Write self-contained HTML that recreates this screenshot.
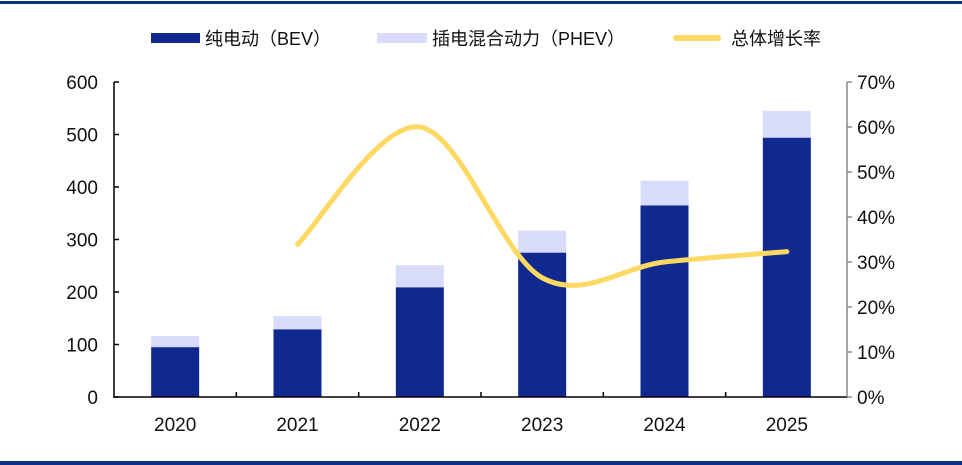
<!DOCTYPE html>
<html><head><meta charset="utf-8"><style>
body{margin:0;background:#fff}
svg{display:block;font-family:"Liberation Sans","Noto Sans CJK SC",sans-serif}
</style></head><body>
<svg id="chart" width="962" height="465" viewBox="0 0 962 465">
<rect x="0" y="1" width="962" height="3" fill="#0c3287"/>
<rect x="0" y="461" width="962" height="4" fill="#0c3287"/>
<g font-size="18" fill="#111">
<rect x="151" y="33" width="49" height="10" fill="#10298f"/>
<text x="205" y="45">纯电动（BEV）</text>
<rect x="377" y="33" width="50" height="10" fill="#d9dbfb"/>
<text x="432" y="45">插电混合动力（PHEV）</text>
<line x1="676" y1="38" x2="718" y2="38" stroke="#fdd963" stroke-width="6" stroke-linecap="round"/>
<text x="731" y="45">总体增长率</text>
</g>
<g id="plot"></g>
</svg>
<script>
const categories=["2020","2021","2022","2023","2024","2025"];
const bevValues=[95,129,209,275,365,494];
const phevValues=[21,25,42,42,47,51];
const growthValues=[null,33.9,60,26.5,30,32.3];
const leftTicks=[0,100,200,300,400,500,600];
const rightTicks=[0,10,20,30,40,50,60,70];

const NS="http://www.w3.org/2000/svg";
const g=document.getElementById('plot');
const X0=114,X1=848,Y0=397,Y1=82;
const band=(X1-X0)/categories.length;
const xc=i=>X0+band*(i+0.5);
const yL=v=>Y0-(v/600)*(Y0-Y1);
const yR=v=>Y0-(v/70)*(Y0-Y1);
function mk(tag,attrs){const e=document.createElementNS(NS,tag);for(const k in attrs)e.setAttribute(k,attrs[k]);g.appendChild(e);return e;}

categories.forEach((c,i)=>{
  const b=mk('rect',{x:xc(i)-24,y:yL(bevValues[i]),width:48,height:Y0-yL(bevValues[i]),fill:'#10298f'});
  
  
  const top=bevValues[i]+phevValues[i];
  const p=mk('rect',{x:xc(i)-24,y:yL(top),width:48,height:yL(bevValues[i])-yL(top),fill:'#d9dbfb'});
  
  
  const t=mk('text',{x:xc(i),y:431,'text-anchor':'middle','font-size':19,fill:'#111'});
  t.textContent=c;
  
  
});
for(let i=1;i<categories.length;i++){
  const tk=mk('line',{x1:X0+band*i,y1:Y0,x2:X0+band*i,y2:Y0-5,stroke:'#000','stroke-width':1.5});
  
  
}
const la=mk('line',{x1:X0,y1:Y1,x2:X0,y2:Y0,stroke:'#000','stroke-width':1.5});


const xa=mk('line',{x1:X0-1,y1:Y0,x2:X1,y2:Y0,stroke:'#000','stroke-width':1.5});


const ra=mk('line',{x1:X1-1,y1:Y1,x2:X1-1,y2:Y0,stroke:'#888','stroke-width':1.5});


leftTicks.forEach(v=>{
  const l=mk('line',{x1:X0,y1:yL(v),x2:X0+5,y2:yL(v),stroke:'#000','stroke-width':1.5});
  
  
  const t=mk('text',{x:98,y:yL(v)+7,'text-anchor':'end','font-size':19,fill:'#111'});
  t.textContent=v;
  
  
});
rightTicks.forEach(v=>{
  const l=mk('line',{x1:X1-1,y1:yR(v),x2:X1+4,y2:yR(v),stroke:'#888','stroke-width':1.5});
  
  
  const t=mk('text',{x:857,y:yR(v)+7,'font-size':19,fill:'#111'});
  t.textContent=v+'%';
  
  
});
const pts=[];growthValues.forEach((v,i)=>{if(v!==null)pts.push([xc(i),yR(v)]);});
let d='M'+pts[0][0]+','+pts[0][1];
for(let i=0;i<pts.length-1;i++){
  const p0=pts[i-1]||pts[i],p1=pts[i],p2=pts[i+1],p3=pts[i+2]||p2;
  const c1=[p1[0]+(p2[0]-p0[0])/6,p1[1]+(p2[1]-p0[1])/6];
  const c2=[p2[0]-(p3[0]-p1[0])/6,p2[1]-(p3[1]-p1[1])/6];
  d+=` C${c1[0]},${c1[1]} ${c2[0]},${c2[1]} ${p2[0]},${p2[1]}`;
}
const ln=mk('path',{d:d,fill:'none',stroke:'#fdd963','stroke-width':5,'stroke-linecap':'round'});


</script>
</body></html>
